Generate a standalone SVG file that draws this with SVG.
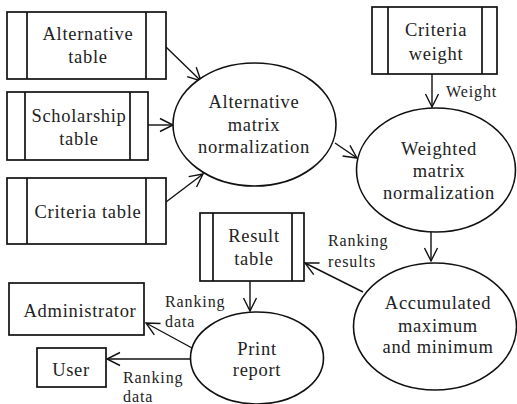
<svg xmlns="http://www.w3.org/2000/svg" width="517" height="404" viewBox="0 0 517 404">
<style>
.bx{fill:#fff;stroke:#111;stroke-width:1.7}
.ln{stroke:#111;stroke-width:1.7;fill:none}
.el{fill:#fff;stroke:#111;stroke-width:1.6}
.t{font-family:"Liberation Serif","Times New Roman",serif;font-size:18.5px;letter-spacing:0.7px;fill:#222;text-anchor:middle}
.s{font-family:"Liberation Serif","Times New Roman",serif;font-size:16px;letter-spacing:0.9px;fill:#222}
.c{stroke:#111;stroke-width:1.4;fill:none;marker-end:url(#ah)}
</style>
<defs>
<marker id="ah" markerUnits="userSpaceOnUse" markerWidth="16" markerHeight="16" viewBox="-14 -8 16 16" refX="0" refY="0" orient="auto">
<path d="M-13,-6.5 L0,0 L-13,6.5" fill="none" stroke="#111" stroke-width="1.4"/>
</marker>
</defs>
<rect width="517" height="404" fill="#fff"/>
<g id="connectors">
<line class="c" x1="166" y1="47" x2="201" y2="81"/>
<line class="c" x1="148" y1="125" x2="173" y2="125"/>
<line class="c" x1="166" y1="202" x2="203" y2="174"/>
<line class="c" x1="335" y1="143" x2="357" y2="158"/>
<line class="c" x1="432" y1="74" x2="432" y2="107"/>
<line class="c" x1="431" y1="232" x2="431" y2="261"/>
<line class="c" x1="363" y1="292" x2="305" y2="263"/>
<line class="c" x1="250" y1="281" x2="250" y2="311"/>
<line class="c" x1="192" y1="348" x2="146" y2="323"/>
<line class="c" x1="191" y1="359" x2="107" y2="359"/>
<text class="s" x="446" y="97">Weight</text>
<text class="s" x="328" y="246">Ranking</text>
<text class="s" x="328" y="267">results</text>
<text class="s" x="165" y="307">Ranking</text>
<text class="s" x="165" y="327">data</text>
<text class="s" x="123" y="383">Ranking</text>
<text class="s" x="123" y="402">data</text>
</g>
<g id="alternative-table">
<rect class="bx" x="7" y="12" width="159" height="67"/>
<line class="ln" x1="27" y1="12" x2="27" y2="79"/>
<line class="ln" x1="146" y1="12" x2="146" y2="79"/>
<text class="t" x="88" y="40">Alternative</text>
<text class="t" x="88" y="63">table</text>
</g>
<g id="scholarship-table">
<rect class="bx" x="7" y="92" width="141" height="68"/>
<line class="ln" x1="25" y1="92" x2="25" y2="160"/>
<line class="ln" x1="130" y1="92" x2="130" y2="160"/>
<text class="t" x="79" y="122">Scholarship</text>
<text class="t" x="79" y="145">table</text>
</g>
<g id="criteria-table">
<rect class="bx" x="7" y="178" width="159" height="66"/>
<line class="ln" x1="27" y1="178" x2="27" y2="244"/>
<line class="ln" x1="146" y1="178" x2="146" y2="244"/>
<text class="t" x="88" y="218">Criteria table</text>
</g>
<g id="criteria-weight">
<rect class="bx" x="372" y="7" width="125" height="67"/>
<line class="ln" x1="388" y1="7" x2="388" y2="74"/>
<line class="ln" x1="482" y1="7" x2="482" y2="74"/>
<text class="t" x="436" y="36">Criteria</text>
<text class="t" x="436" y="60">weight</text>
</g>
<g id="alternative-matrix-normalization">
<ellipse class="el" cx="254.5" cy="124.5" rx="81.5" ry="61.5"/>
<text class="t" x="254" y="108">Alternative</text>
<text class="t" x="254" y="131">matrix</text>
<text class="t" x="254" y="153">normalization</text>
</g>
<g id="weighted-matrix-normalization">
<ellipse class="el" cx="436" cy="170" rx="79.5" ry="62"/>
<text class="t" x="439" y="155">Weighted</text>
<text class="t" x="439" y="177">matrix</text>
<text class="t" x="439" y="199">normalization</text>
</g>
<g id="result-table">
<rect class="bx" x="200" y="213" width="104" height="68"/>
<line class="ln" x1="213" y1="213" x2="213" y2="281"/>
<line class="ln" x1="292" y1="213" x2="292" y2="281"/>
<text class="t" x="254" y="242">Result</text>
<text class="t" x="254" y="265">table</text>
</g>
<g id="accumulated-maximum-and-minimum">
<ellipse class="el" cx="435" cy="326.5" rx="81.5" ry="63.5"/>
<text class="t" x="438" y="309">Accumulated</text>
<text class="t" x="438" y="332">maximum</text>
<text class="t" x="438" y="353">and minimum</text>
</g>
<g id="print-report">
<ellipse class="el" cx="257" cy="358" rx="66.5" ry="46"/>
<text class="t" x="257" y="355">Print</text>
<text class="t" x="257" y="376">report</text>
</g>
<g id="administrator">
<rect class="bx" x="9" y="283" width="135" height="52"/>
<text class="t" x="80" y="317">Administrator</text>
</g>
<g id="user">
<rect class="bx" x="37" y="348" width="69" height="39"/>
<text class="t" x="71" y="376">User</text>
</g>
</svg>
